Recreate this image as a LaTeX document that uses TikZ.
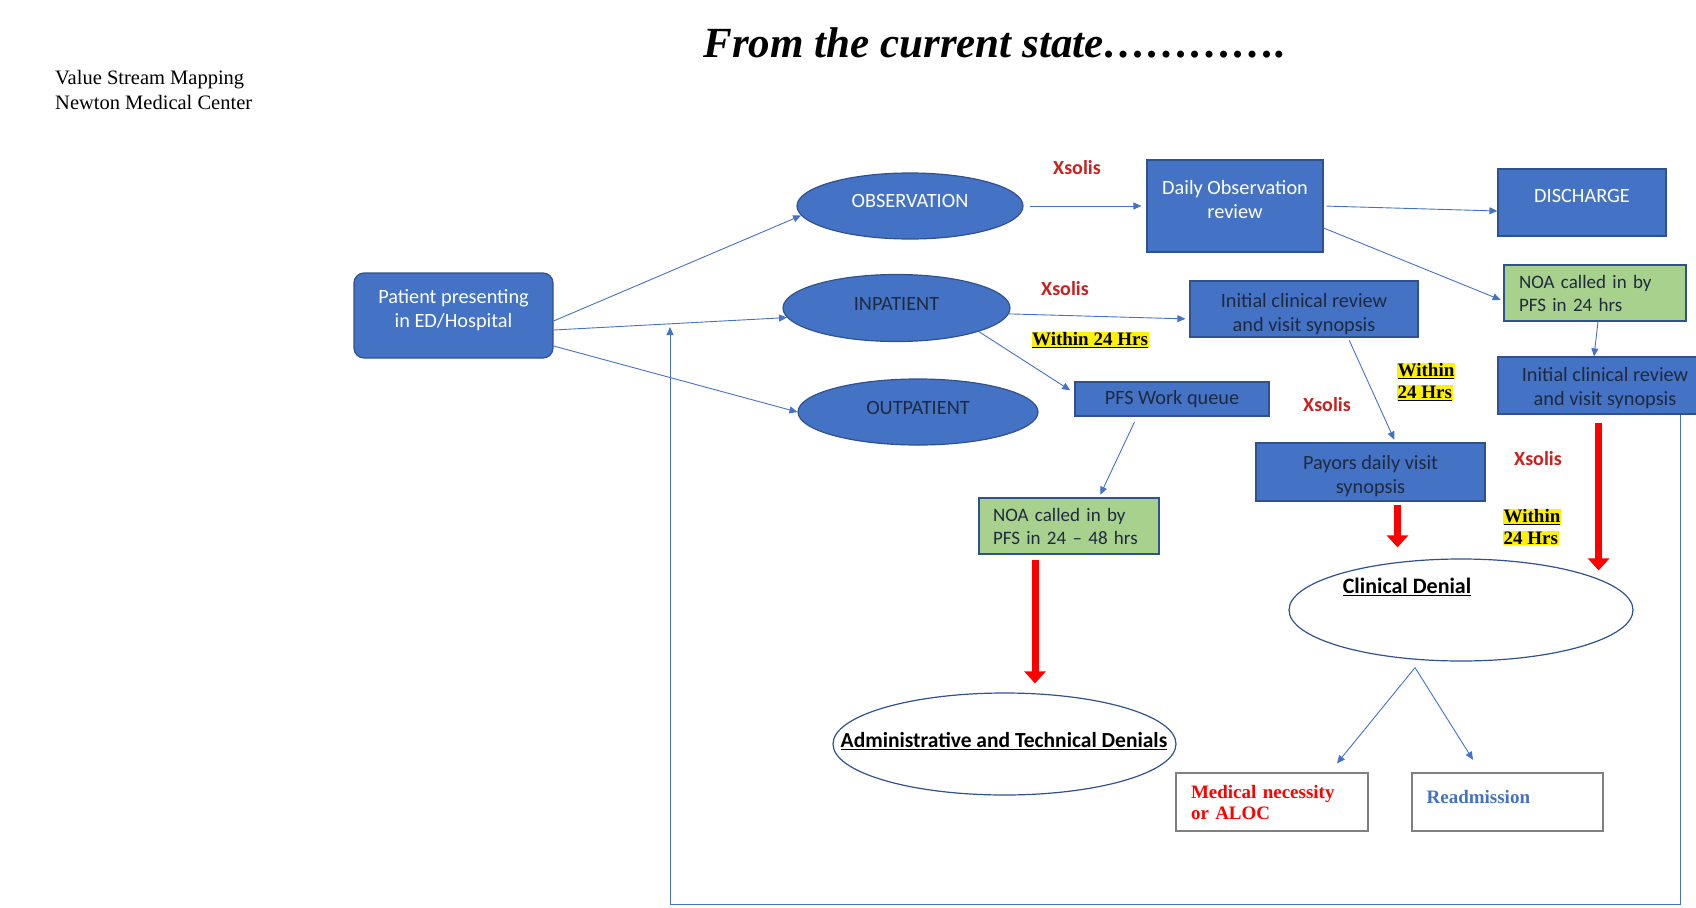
\documentclass[tikz,border=0pt]{standalone}
\usepackage{fontspec}
\setmainfont{Carlito}
\newfontfamily\timesf{Liberation Serif}
\usetikzlibrary{shapes.geometric,arrows.meta,positioning,calc}
\definecolor{boxblue}{HTML}{4472C4}
\definecolor{boxline}{HTML}{2F528F}
\definecolor{noagreen}{HTML}{A9D18E}
\definecolor{xred}{HTML}{C9211E}
\definecolor{darktxt}{HTML}{1F2A40}
\newcommand{\hlu}[1]{{\setlength{\fboxsep}{0.6pt}\colorbox{yellow}{\underline{#1}}}}
\newcommand{\hlp}[1]{{\setlength{\fboxsep}{0.6pt}\colorbox{yellow}{#1}}}

\begin{document}
\begin{tikzpicture}[x=1pt,y=-1pt,font=\fontsize{20.3}{24}\selectfont,
  bbox/.style={rectangle,draw=boxline,fill=boxblue,line width=1.2pt,align=center,inner sep=0pt},
  oval/.style={ellipse,draw=boxline,fill=boxblue,line width=1.2pt,inner sep=0pt},
  gbox/.style={rectangle,draw=boxline,fill=noagreen,line width=1.2pt,align=left,inner sep=0pt,text=darktxt,font=\fontsize{19}{23}\selectfont},
  wbox/.style={rectangle,draw=gray,line width=1.2pt,align=left,inner sep=0pt},
  ttxt/.style={align=center,inner sep=0pt},
  flow/.style={draw=boxblue,line width=0.9pt,-{Triangle[length=8pt,width=7pt]}},
  bigred/.style={draw=red,line width=7pt,-{Triangle[length=12pt,width=21pt]}},
  xs/.style={text=xred,font=\fontsize{20}{24}\selectfont\bfseries},
  hrs/.style={font=\timesf\fontsize{19}{22}\selectfont\bfseries,align=left,inner sep=0pt}]
\useasboundingbox (0,0) rectangle (1696,907);

% headings
\node[align=left,anchor=west,inner sep=0pt,font=\timesf\fontsize{20.5}{25}\selectfont] (vsm) at (55,90) {Value Stream Mapping\\Newton Medical Center};
\node[inner sep=0pt,font=\timesf\fontsize{43}{48}\selectfont\bfseries\itshape] (title) at (995,43) {From the current state………….};

% entry and patient types
\node[bbox,rounded corners=10pt,minimum width=199pt,minimum height=85pt] (pat) at (453.5,315.5) {};
\node[ttxt,text=white] (pattxt) at ([yshift=5.5pt]pat.center) {Patient presenting\\in ED/Hospital};
\node[oval,minimum width=226pt,minimum height=66pt] (obs) at (910,206) {};
\node[ttxt,text=white] (obstxt) at ([yshift=5.5pt]obs.center) {OBSERVATION};
\node[oval,minimum width=227pt,minimum height=67pt] (inp) at (896.5,308) {};
\node[ttxt,text=darktxt] (inptxt) at ([yshift=4.5pt]inp.center) {INPATIENT};
\node[oval,minimum width=240pt,minimum height=66pt] (outp) at (918,412) {};
\node[ttxt,text=darktxt] (outptxt) at ([yshift=4.5pt]outp.center) {OUTPATIENT};

% review steps
\node[bbox,minimum width=176pt,minimum height=92pt] (daily) at (1235,206) {};
\node[ttxt,text=white] (dailytxt) at ([yshift=6.5pt]daily.center) {Daily Observation\\review};
\node[bbox,minimum width=168pt,minimum height=67pt] (dis) at (1582,202.5) {};
\node[ttxt,text=white] (distxt) at ([yshift=6.5pt]dis.center) {DISCHARGE};
\node[gbox,minimum width=182pt,minimum height=56pt,text width=152pt] (noar) at (1595,293) {NOA called in by\\PFS in 24 hrs};
\node[bbox,minimum width=214pt,minimum height=57pt] (iright) at (1605,385.5) {};
\node[ttxt,text=darktxt] (irighttxt) at ([yshift=-3pt]iright.center) {Initial clinical review\\and visit synopsis};
\node[bbox,minimum width=228pt,minimum height=56pt] (imid) at (1304,309) {};
\node[ttxt,text=darktxt] (imidtxt) at ([yshift=-5pt]imid.center) {Initial clinical review\\and visit synopsis};
\node[bbox,minimum width=194pt,minimum height=34pt,text=darktxt] (pfs) at (1172,399) {PFS Work queue};
\node[bbox,minimum width=229pt,minimum height=58pt] (pay) at (1370.5,472) {};
\node[ttxt,text=darktxt] (paytxt) at ([yshift=-4.5pt]pay.center) {Payors daily visit\\synopsis};
\node[gbox,minimum width=180pt,minimum height=56pt,text width=152pt] (noa) at (1069,526) {NOA called in by\\PFS in 24 – 48 hrs};

% denials
\node[ellipse,draw=boxline,line width=1.2pt,minimum width=344pt,minimum height=102pt] (cden) at (1461,610) {};
\node[font=\fontsize{22}{26}\selectfont\bfseries,inner sep=0pt] (cdenlbl) at (1407,587) {\underline{Clinical Denial}};
\node[ellipse,draw=boxline,line width=1.2pt,minimum width=343pt,minimum height=102pt] (adm) at (1004.5,744) {};
\node[font=\fontsize{21.5}{26}\selectfont\bfseries,inner sep=0pt] (admlbl) at (1004,741) {\underline{Administrative and Technical Denials}};
\node[wbox,minimum width=192pt,minimum height=58pt,text width=162pt,text=red,font=\timesf\fontsize{19}{21}\selectfont\bfseries] (med) at (1272,802) {Medical necessity\\or ALOC};
\node[wbox,minimum width=191pt,minimum height=58pt] (readm) at (1507.5,802) {};
\node[anchor=west,inner sep=0pt,text=boxblue,font=\timesf\fontsize{19}{21}\selectfont\bfseries] (readmtxt) at ([xshift=15pt,yshift=5.5pt]readm.west) {Readmission};

% tool and timing notes
\node[xs] (xs1) at (1077,168) {Xsolis};
\node[xs] (xs2) at (1065,289) {Xsolis};
\node[xs] (xs3) at (1327,405) {Xsolis};
\node[xs] (xs4) at (1538,459) {Xsolis};
\node[hrs] (w1) at (1090,340) {\hlu{Within 24 Hrs}};
\node[hrs] (w2) at (1426,382) {\hlu{Within}\\\hlu{24 Hrs}};
\node[hrs] (w3) at (1532,527) {\hlu{Within}\\\hlp{24 Hrs}};

% connectors
\draw[flow] ([yshift=-5.5pt]pat.east) -- (obs.185);
\draw[flow] ([yshift=-14.5pt]pat.east) -- (inp.185);
\draw[flow] ([yshift=-30.5pt]pat.east) -- (outp.west);
\draw[flow,shorten <=6pt,shorten >=5pt] (obs.east) -- (daily.west);
\draw[flow,shorten >=4pt] (inp.-3) -- ([yshift=-10pt]imid.west);
\draw[flow,shorten >=5pt] (inp.-16) -- ([yshift=6pt]pfs.west);
\draw[flow,shorten <=3pt] (daily.east) -- ([yshift=-8.5pt]dis.west);
\draw[flow,shorten >=3pt] ([yshift=-22pt]daily.east) -- ([yshift=-8pt]noar.west);
\draw[flow] ([xshift=3pt]noar.south) -- ([xshift=-11pt]iright.north);
\draw[flow,shorten <=3pt,shorten >=3pt] ([xshift=44pt]imid.south) -- ([xshift=25pt]pay.north);
\draw[flow,shorten <=6pt,shorten >=3pt] ([xshift=-35pt]pfs.south) -- ([xshift=30pt]noa.north);
\draw[bigred,shorten <=5pt] ([xshift=-34pt]noa.south) -- ([xshift=30.5pt,yshift=9pt]adm.north);
\draw[bigred,shorten <=3pt] ([xshift=27pt]pay.south) -- ([xshift=-63.5pt,yshift=11pt]cden.north);
\draw[bigred,shorten <=8pt] ([xshift=-6.4pt]iright.south) -- ([xshift=137.6pt,yshift=-12pt]cden.north);
\draw[flow] ([xshift=-46pt,yshift=-6pt]cden.south) -- ([xshift=65pt,yshift=9pt]med.north);
\draw[flow] ([xshift=-46pt,yshift=-6pt]cden.south) -- ([xshift=-34.5pt,yshift=12.6pt]readm.north);

% loop back to intake
\coordinate (fbcorner) at (670,904);
\coordinate (fbtip) at (670,327);
\draw[flow] ([xshift=75pt]iright.south) |- (fbcorner) -- (fbtip);
\end{tikzpicture}
\end{document}
